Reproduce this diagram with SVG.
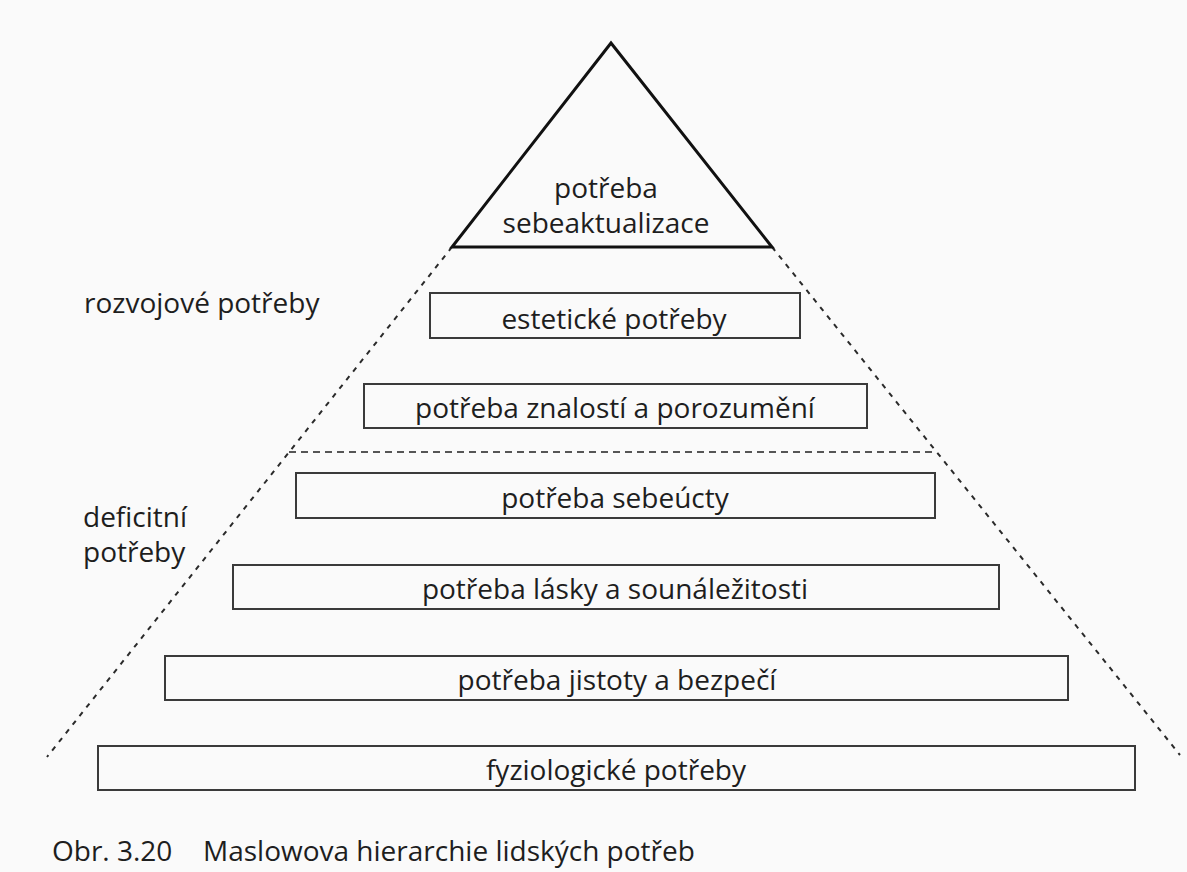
<svg xmlns="http://www.w3.org/2000/svg" width="1187" height="872" viewBox="0 0 1187 872">
  <style>
    .bg { fill: #fafafa; }
    .box { fill: none; stroke: #3a3a3a; stroke-width: 2; }
    .tri { fill: none; stroke: #111; stroke-width: 3; stroke-linejoin: miter; }
    .dash-diag { fill: none; stroke: #2a2a2a; stroke-width: 2; stroke-dasharray: 5 6; }
    .dash-h { fill: none; stroke: #555; stroke-width: 2; stroke-dasharray: 7 5; }
    .t { font-family: "Open Sans", "Noto Sans", sans-serif; font-size: 28px; fill: #1e1e1e; }
    .c { text-anchor: middle; }
  </style>
  <rect class="bg" x="0" y="0" width="1187" height="872"/>

  <g id="connectors">
    <line class="dash-diag" x1="452" y1="247" x2="47" y2="757"/>
    <line class="dash-diag" x1="772" y1="247" x2="1180" y2="755"/>
    <line class="dash-h" x1="289" y1="452" x2="937" y2="452"/>
  </g>

  <g id="node-sebeaktualizace">
    <polygon class="tri" points="611,43 772,247 452,247"/>
    <text class="t c" x="606" y="198">potřeba</text>
    <text class="t c" x="606" y="233">sebeaktualizace</text>
  </g>

  <g id="node-esteticke">
    <rect class="box" x="430" y="293" width="370" height="45"/>
    <text class="t c" x="614" y="329">estetické potřeby</text>
  </g>

  <g id="node-znalosti">
    <rect class="box" x="364" y="384" width="503" height="44"/>
    <text class="t c" x="615" y="418">potřeba znalostí a porozumění</text>
  </g>

  <g id="node-sebeucty">
    <rect class="box" x="296" y="473" width="639" height="45"/>
    <text class="t c" x="615" y="508">potřeba sebeúcty</text>
  </g>

  <g id="node-lasky">
    <rect class="box" x="233" y="565" width="766" height="44"/>
    <text class="t c" x="615" y="599">potřeba lásky a sounáležitosti</text>
  </g>

  <g id="node-jistoty">
    <rect class="box" x="165" y="656" width="903" height="44"/>
    <text class="t c" x="617" y="690">potřeba jistoty a bezpečí</text>
  </g>

  <g id="node-fyziologicke">
    <rect class="box" x="98" y="746" width="1037" height="44"/>
    <text class="t c" x="616" y="780">fyziologické potřeby</text>
  </g>

  <g id="label-rozvojove">
    <text class="t" x="84" y="313">rozvojové potřeby</text>
  </g>

  <g id="label-deficitni">
    <text class="t" x="83" y="527">deficitní</text>
    <text class="t" x="83" y="562">potřeby</text>
  </g>

  <g id="caption">
    <text class="t" x="52" y="861">Obr. 3.20</text>
    <text class="t" x="203" y="861">Maslowova hierarchie lidských potřeb</text>
  </g>
</svg>
